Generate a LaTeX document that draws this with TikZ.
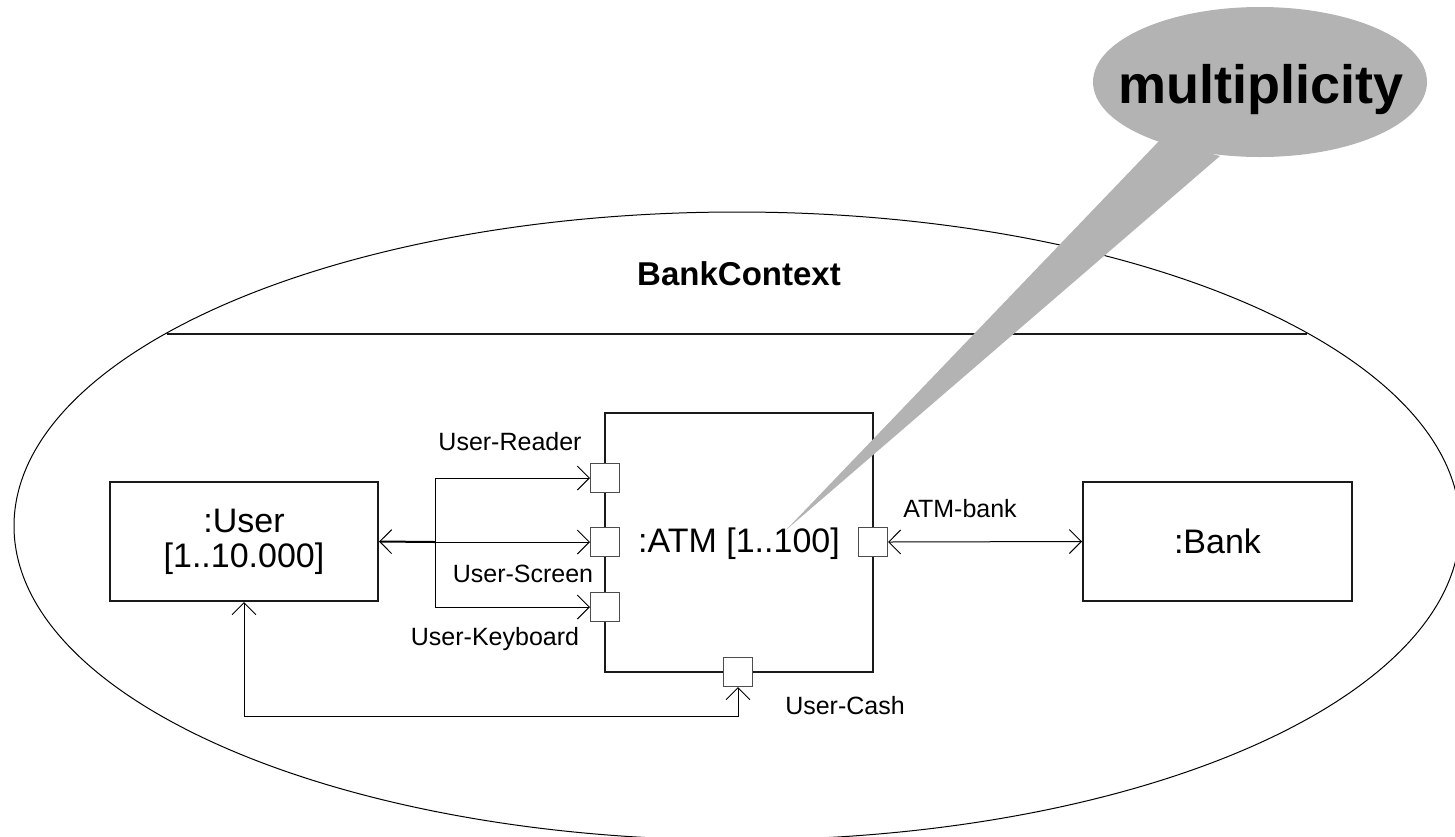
\documentclass[tikz,border=0pt]{standalone}
\usepackage{fontspec}
\setmainfont{Liberation Sans}
\usetikzlibrary{arrows.meta}
\definecolor{callgray}{HTML}{B3B3B3}
\definecolor{linedark}{HTML}{1A1A1A}
\tikzset{
  box/.style={draw=linedark, line width=1pt, fill=white, inner sep=0pt, align=center,
    font=\fontsize{17pt}{17.5pt}\selectfont},
  portbox/.style={draw=black!70, line width=0.5pt, fill=white, minimum size=14.5pt, inner sep=0pt},
  conn/.style={draw=black, line width=0.5pt},
  barb/.tip={Straight Barb[length=6pt,width=12pt,line width=0.5pt]},
  lbl/.style={font=\fontsize{12.5pt}{14pt}\selectfont, anchor=base, inner sep=0pt},
}
\begin{document}
\begin{tikzpicture}[x=0.5pt,y=-0.5pt]
\useasboundingbox (0,0) rectangle (1455,836);
\clip (0,0) rectangle (1455,836);
% context ellipse
\draw[line width=0.5pt, draw=black] (737,526) ellipse [x radius=361.5pt, y radius=157pt];
\draw[line width=1pt, draw=linedark] (167,334) -- (1307,334);
\node[font=\fontsize{16.5pt}{18pt}\selectfont\bfseries, anchor=base, inner sep=0pt] (ctx) at (739,285) {BankContext};
% parts
\node[box, minimum width=134pt, minimum height=59.5pt] (user) at (244,541.5) {:User\\{}[1..10.000]};
\node[box, minimum width=134.5pt, minimum height=59.5pt] (bank) at (1217.5,541.5) {:Bank};
\node[box, minimum width=134pt, minimum height=129.5pt] (atm) at (739,542.5) {};
% ports
\node[portbox] (pR) at (605,478) {};
\node[portbox] (pS) at (605,542) {};
\node[portbox] (pK) at (605,607) {};
\node[portbox] (pB) at (873,542) {};
\node[portbox] (pC) at (738,672) {};
% connectors
\coordinate (jn) at (435,542);
\coordinate (cc) at (244,716);
\draw[conn, line width=1pt, {barb}-] (user.east) -- (jn);
\draw[conn, -{barb}] (jn) |- (pR.west);
\draw[conn, -{barb}] (jn) -- (pS.west);
\draw[conn, -{barb}] (jn) |- (pK.west);
\draw[conn, {barb}-{barb}] (pB.east) -- (bank.west);
\draw[conn, {barb}-{barb}] (pC.south) |- (cc) -- (user.south);
% labels
\node[lbl] (lR) at (510,450) {User-Reader};
\node[lbl] (lS) at (523,582) {User-Screen};
\node[lbl] (lK) at (495,645) {User-Keyboard};
\node[lbl] (lB) at (960,517) {ATM-bank};
\node[lbl] (lC) at (845,714) {User-Cash};
% callout
\fill[callgray] (1260,82) ellipse [x radius=83.5pt, y radius=37.5pt];
\coordinate (tip) at (786,530);
\fill[callgray] (1160,140) -- (tip) -- (1220,156) -- cycle;
\node[font=\fontsize{27pt}{30pt}\selectfont\bfseries, anchor=base, inner sep=0pt] (mult) at (1261,103) {multiplicity};
\node[font=\fontsize{17pt}{17.5pt}\selectfont, anchor=base, inner sep=0pt] (atmlbl) at (739,552) {:ATM [1..100]};
\end{tikzpicture}
\end{document}
